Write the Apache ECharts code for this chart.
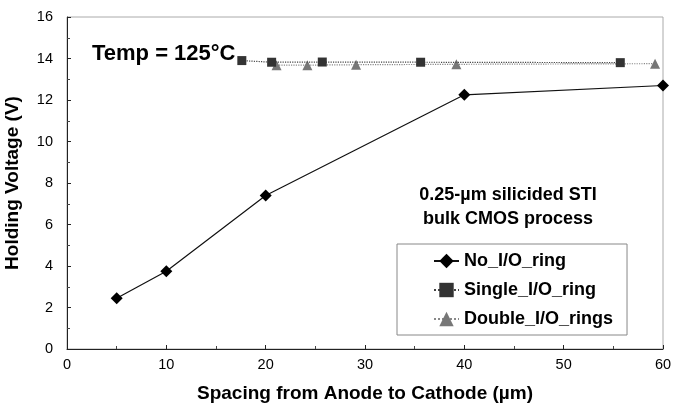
<!DOCTYPE html>
<html><head><meta charset="utf-8">
<script src="https://cdn.jsdelivr.net/npm/echarts@6/dist/echarts.min.js"></script>
<style>html,body{margin:0;padding:0;background:#fff}#c{width:674px;height:408px}</style>
</head><body><div id="c"></div>
<script>
const noRingX = [5, 10, 20, 40, 60];
const noRingY = [2.45, 3.75, 7.4, 12.25, 12.7];
const singleX = [17.6, 20.6, 25.7, 35.6, 55.7];
const singleY = [13.9, 13.82, 13.83, 13.82, 13.8];
const doubleX = [21.1, 24.2, 29.1, 39.2, 59.2];
const doubleY = [13.68, 13.68, 13.7, 13.72, 13.75];
const seriesNames = ['No_I/O_ring', 'Single_I/O_ring', 'Double_I/O_rings'];
const zip = (xs, ys) => xs.map((x, i) => [x, ys[i]]);
const F = 'Liberation Sans, Arial, sans-serif';
const chart = echarts.init(document.getElementById('c'), null, {renderer: 'canvas'});
chart.setOption({
  animation: false,
  backgroundColor: '#fff',
  grid: {left: 67, right: 11, top: 17, bottom: 59, containLabel: false, outerBoundsMode: 'none',
         show: true, borderColor: '#aaa', borderWidth: 1},
  xAxis: {
    type: 'value', min: 0, max: 60, interval: 10,
    name: 'Spacing from Anode to Cathode (µm)', nameLocation: 'middle', nameGap: 35,
    nameTextStyle: {fontFamily: F, fontWeight: 'bold', fontSize: 19, color: '#000'},
    axisLine: {lineStyle: {color: '#222', width: 1}},
    axisTick: {inside: true, length: 4, lineStyle: {color: '#222'}},
    minorTick: {show: true, splitNumber: 2, length: 3, lineStyle: {color: '#444'}},
    axisLabel: {fontFamily: F, fontSize: 14.5, color: '#000', margin: 8},
    splitLine: {show: false}
  },
  yAxis: {
    type: 'value', min: 0, max: 16, interval: 2,
    name: 'Holding Voltage (V)', nameLocation: 'middle', nameGap: 45,
    nameTextStyle: {fontFamily: F, fontWeight: 'bold', fontSize: 19, color: '#000'},
    axisLine: {show: true, lineStyle: {color: '#222', width: 1}},
    axisTick: {show: true, inside: true, length: 4, lineStyle: {color: '#222'}},
    minorTick: {show: true, splitNumber: 2, length: 3, lineStyle: {color: '#444'}},
    axisLabel: {fontFamily: F, fontSize: 14.5, color: '#000', margin: 14},
    splitLine: {show: false}
  },
  legend: {
    left: 397, top: 244, orient: 'vertical',
    backgroundColor: '#fff', borderColor: '#888', borderWidth: 1,
    padding: [8, 14, 7, 36], itemGap: 11, itemWidth: 25, itemHeight: 18,
    textStyle: {fontFamily: F, fontWeight: 'bold', fontSize: 18, color: '#000'},
    data: seriesNames
  },
  graphic: [
    {type: 'text', left: 92, top: 43, style: {text: 'Temp = 125°C', font: 'bold 22px ' + F, fill: '#000'}},
    {type: 'text', x: 508, y: 195, style: {text: '0.25-µm silicided STI', font: 'bold 18px ' + F, fill: '#000', align: 'center', verticalAlign: 'middle'}},
    {type: 'text', x: 508, y: 219, style: {text: 'bulk CMOS process', font: 'bold 18px ' + F, fill: '#000', align: 'center', verticalAlign: 'middle'}}
  ],
  series: [
    {name: seriesNames[0], type: 'line', data: zip(noRingX, noRingY), symbol: 'diamond', symbolSize: 12,
     itemStyle: {color: '#000'}, lineStyle: {color: '#111', width: 1.2}, z: 3},
    {name: seriesNames[1], type: 'line', data: zip(singleX, singleY), symbol: 'rect', symbolSize: 9,
     itemStyle: {color: '#333'}, lineStyle: {color: '#444', width: 1.2, type: 'dotted'}, z: 4},
    {name: seriesNames[2], type: 'line', data: zip(doubleX, doubleY), symbol: 'triangle', symbolSize: 10,
     itemStyle: {color: '#777'}, lineStyle: {color: '#888', width: 1.2, type: 'dotted'}, z: 2}
  ]
});
</script></body></html>
